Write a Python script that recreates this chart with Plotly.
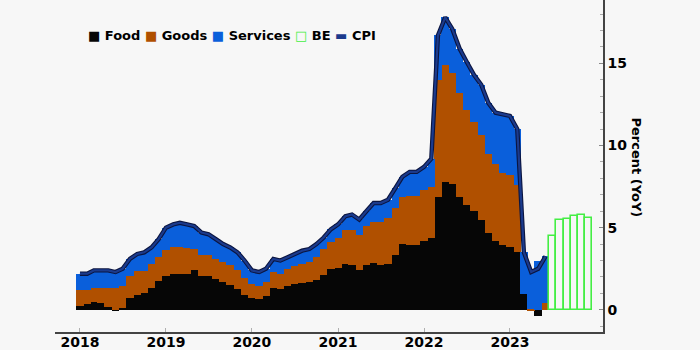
import plotly.graph_objects as go

# ---- data ----
years = [2018, 2019, 2020, 2021, 2022, 2023]
months = [f"{y}-{m:02d}-01" for y in years for m in range(1, 13)][:66]  # Jan 2018 .. Jun 2023

cpi = [2.2, 2.2, 2.4, 2.4, 2.4, 2.3, 2.5, 3.1, 3.4, 3.5, 3.8, 4.3,
       5.0, 5.2, 5.3, 5.2, 5.1, 4.7, 4.6, 4.3, 4.0, 3.8, 3.5, 3.0,
       2.4, 2.3, 2.5, 3.1, 3.0, 3.2, 3.4, 3.6, 3.7, 4.0, 4.4, 4.9,
       5.2, 5.7, 5.8, 5.5, 6.0, 6.5, 6.5, 6.7, 7.4, 8.1, 8.4, 8.4,
       8.7, 9.2, 16.7, 17.8, 17.1, 15.9, 15.1, 14.3, 13.7, 12.6, 12.0, 11.9,
       11.8, 11.0, 3.5, 2.3, 2.5, 3.25]

food = [0.26, 0.33, 0.47, 0.41, 0.16, -0.10, 0.14, 0.70, 0.93, 1.02, 1.34, 1.75,
        2.03, 2.20, 2.20, 2.20, 2.40, 2.03, 2.03, 1.89, 1.69, 1.54, 1.28, 0.90,
        0.75, 0.67, 0.82, 1.35, 1.24, 1.47, 1.58, 1.62, 1.69, 1.84, 2.15, 2.50,
        2.56, 2.80, 2.74, 2.44, 2.70, 2.86, 2.74, 2.80, 3.35, 3.98, 3.96, 3.95,
        4.20, 4.35, 6.85, 7.80, 7.65, 6.87, 6.40, 6.00, 5.45, 4.65, 4.22, 3.92,
        3.82, 3.55, 0.96, 0.02, -0.37, 0.00]

goods = [0.92, 0.89, 0.87, 0.93, 1.16, 1.34, 1.34, 1.33, 1.43, 1.34, 1.46, 1.46,
         1.63, 1.62, 1.62, 1.58, 1.32, 1.28, 1.28, 1.21, 1.21, 1.16, 1.12, 1.02,
         0.84, 0.81, 0.87, 0.95, 0.96, 1.03, 1.06, 1.18, 1.25, 1.37, 1.57, 1.62,
         1.80, 2.03, 2.13, 2.09, 2.38, 2.48, 2.60, 2.81, 2.85, 2.89, 2.95, 2.98,
         3.10, 3.12, 7.13, 7.10, 6.75, 6.33, 5.75, 5.44, 5.18, 4.86, 4.68, 4.41,
         4.37, 4.03, 0.00, -0.10, 0.00, 0.40]

services = [1.02, 0.98, 1.06, 1.06, 1.08, 0.96, 1.02, 1.07, 1.04, 1.14, 1.00, 1.09,
            1.34, 1.38, 1.48, 1.42, 1.38, 1.39, 1.29, 1.20, 1.10, 1.10, 1.10, 1.08,
            0.81, 0.82, 0.81, 0.80, 0.80, 0.70, 0.76, 0.80, 0.76, 0.79, 0.68, 0.78,
            0.84, 0.87, 0.93, 0.97, 0.92, 1.16, 1.16, 1.09, 1.20, 1.23, 1.49, 1.47,
            1.40, 1.73, 2.72, 2.90, 2.70, 2.70, 2.95, 2.86, 3.07, 3.09, 3.10, 3.57,
            3.61, 3.42, 2.54, 2.38, 2.95, 2.90]

be_months = ["2023-07-01", "2023-08-01", "2023-09-01", "2023-10-01", "2023-11-01", "2023-12-01"]
be = [4.5, 5.45, 5.5, 5.7, 5.75, 5.6]

tick_vals = ["2018-01-01", "2019-01-01", "2020-01-01", "2021-01-01", "2022-01-01", "2023-01-01"]
tick_text = ["2018", "2019", "2020", "2021", "2022", "2023"]

# ---- styles ----
BG = "#f7f7f7"
C_FOOD = "#060606"
C_GOODS = "#b05000"
C_SERV = "#0a5fdb"
C_BE = "#44ee44"
C_CPI = "#1b3a8c"
C_CPI_EDGE = "#0b1540"
FONT = "DejaVu Sans"
BAR_W = 31.8 * 86400000
BE_W = 30.6 * 86400000

fig = go.Figure()
for name, vals, col in [("Food", food, C_FOOD), ("Goods", goods, C_GOODS), ("Services", services, C_SERV)]:
    fig.add_trace(go.Bar(x=months, y=vals, name=name, width=BAR_W,
                         marker=dict(color=col, line=dict(width=0)), showlegend=False))
fig.add_trace(go.Bar(x=be_months, y=be, name="BE", width=BE_W,
                     marker=dict(color=BG, line=dict(color=C_BE, width=1.6)), showlegend=False))
fig.add_trace(go.Scatter(x=months, y=cpi, mode="lines", name="CPI_edge", hoverinfo="skip",
                         line=dict(color=C_CPI_EDGE, width=4.4), showlegend=False))
fig.add_trace(go.Scatter(x=months, y=cpi, mode="lines", name="CPI",
                         line=dict(color=C_CPI, width=2.2), showlegend=False))

legend_text = (f'<span style="color:{C_FOOD}">■</span> Food '
               f'<span style="color:{C_GOODS}">■</span> Goods '
               f'<span style="color:{C_SERV}">■</span> Services '
               f'<span style="color:{C_BE}">□</span> BE '
               f'<span style="color:{C_CPI}">▬</span> CPI')

fig.update_layout(
    width=700, height=350,
    margin=dict(l=55, r=97, t=0, b=18, autoexpand=False),
    paper_bgcolor=BG, plot_bgcolor=BG,
    barmode="relative", bargap=0,
    showlegend=False,
    font=dict(family=FONT, size=14, color="#000"),
    xaxis=dict(type="date", range=["2017-09-17", "2024-01-31"],
               tickmode="array", tickvals=tick_vals, ticktext=tick_text,
               ticks="inside", ticklen=4, tickcolor="#b0b0b0",
               ticklabelstandoff=-4,
               showline=True, linecolor="#444", linewidth=1.5,
               showgrid=False, zeroline=False,
               tickfont=dict(family=FONT, size=14, weight="bold")),
    yaxis=dict(side="right", range=[-1.35, 18.86],
               tickmode="array", tickvals=[0, 5, 10, 15],
               ticks="inside", ticklen=4, tickcolor="#888",
               minor=dict(dtick=1, ticks="inside", ticklen=3, tickcolor="#aaa", showgrid=False),
               showline=True, linecolor="#444", linewidth=1.5,
               showgrid=False, zeroline=False,
               tickfont=dict(family=FONT, size=14, weight="bold")),
    annotations=[
        dict(text=legend_text, xref="paper", yref="paper", x=0.056, y=0.894,
             xanchor="left", yanchor="middle", showarrow=False,
             font=dict(family=FONT, size=13, weight="bold", color="#000")),
        dict(text="Percent (YoY)", xref="paper", yref="paper", x=1.062, y=0.4955,
             xanchor="center", yanchor="middle", textangle=90, showarrow=False,
             font=dict(family=FONT, size=13, weight="bold", color="#000")),
    ],
)

fig.write_html("out.html")
